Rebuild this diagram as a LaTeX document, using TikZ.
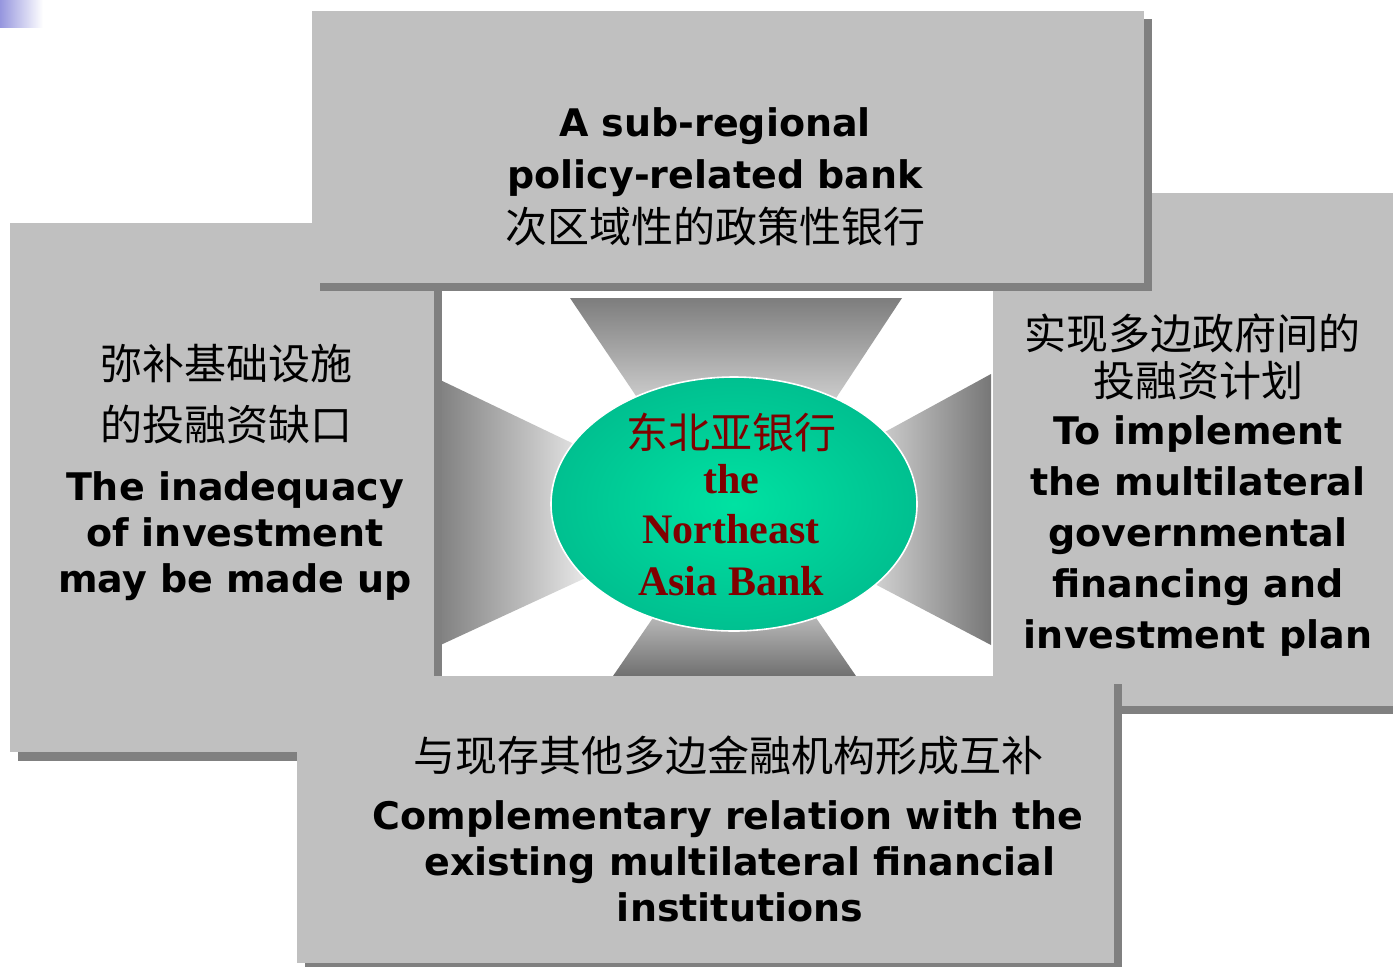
\documentclass[tikz,border=0pt]{standalone}
\usepackage{fontspec}
\newfontfamily\enfont{DejaVu Sans}
\newfontfamily\zhfont{Noto Sans CJK SC}
\newfontfamily\bankfont{Liberation Serif}
\definecolor{boxgray}{RGB}{192,192,192}
\definecolor{shadowgray}{RGB}{128,128,128}
\definecolor{bankred}{RGB}{128,0,0}
\definecolor{tealin}{RGB}{0,226,162}
\definecolor{tealout}{RGB}{0,192,144}
\definecolor{cornerblue}{RGB}{150,150,222}
\definecolor{funneldark}{RGB}{125,125,125}
\definecolor{funnellight}{RGB}{228,228,228}
\newcommand\zhtext[1]{{\zhfont\mdseries\fontsize{21}{25}\selectfont #1}}
\newcommand\padr[1]{\rule{#1}{0pt}}
\tikzset{
  boxfill/.style={fill=boxgray},
  boxshadow/.style={fill=shadowgray},
  boxtext/.style={align=center, text=black, inner sep=0pt},
}
\begin{document}
\begin{tikzpicture}[x=0.5pt,y=-0.5pt]
\useasboundingbox (0,0) rectangle (1393,966);
\clip (0,0) rectangle (1393,966);
% corner gradient
\shade[left color=cornerblue, right color=white] (0,0) rectangle (43,27);
% funnels
\shade[top color=funneldark, bottom color=funnellight] (570,298) -- (902,298) -- (815,430) -- (659,430) -- cycle;
\shade[bottom color=funneldark!110, top color=funnellight] (613,676) -- (856,676) -- (790,580) -- (679,580) -- cycle;
\shade[left color=funneldark, right color=white] (434,377) -- (620,466) -- (620,562) -- (434,648) -- cycle;
\shade[right color=funneldark!95!black, left color=funnellight] (991,374) -- (850,451) -- (850,571) -- (991,645) -- cycle;
% central ellipse
\shade[inner color=tealin, outer color=tealout, draw=white, line width=0.8pt] (734,504) ellipse [x radius=183, y radius=127];
\node[align=center, text=bankred, inner sep=0pt, font=\bankfont\bfseries\fontsize{21}{25}\selectfont] (bank) at (731,504)
  {{\zhfont\mdseries 东北亚银行}\\[-2.5pt]the\\Northeast\\[1pt]Asia Bank};
% left box
\path[boxshadow] (18,231) rectangle (442,761);
\path[boxfill] (10,223) rectangle (434,752);
% right box
\path[boxshadow] (1001,201) rectangle (1401,714);
\path[boxfill] (993,193) rectangle (1393,706);
% bottom box
\path[boxshadow] (305,684) rectangle (1122,971);
\path[boxfill] (297,676) rectangle (1114,963);
% top box
\path[boxshadow] (320,19) rectangle (1152,291);
\path[boxfill] (312,11) rectangle (1144,283);
% texts
\node[boxtext, font=\enfont\bfseries\fontsize{19}{26}\selectfont] (toptext) at (715,177)
  {A sub-regional\\policy-related bank\\[1pt]\zhtext{次区域性的政策性银行}};
\node[boxtext, font=\enfont\bfseries\fontsize{19}{23}\selectfont] (lefttext) at (235,472)
  {\zhtext{弥补基础设施}\padr{9pt}\\[7.5pt]\zhtext{的投融资缺口}\padr{9pt}\\[7pt]The inadequacy\\of investment\\may be made up};
\node[boxtext, font=\enfont\bfseries\fontsize{19}{25.5}\selectfont] (righttext) at (1198,485)
  {\zhtext{实现多边政府间的}\padr{6pt}\\[-2pt]\zhtext{投融资计划}\\[-1.5pt]To implement\\the multilateral\\governmental\\financing and\\investment plan};
\node[boxtext, font=\enfont\bfseries\fontsize{19}{23}\selectfont] (bottomtext) at (740,829)
  {\zhtext{与现存其他多边金融机构形成互补}\padr{12pt}\\[6pt]Complementary relation with the\padr{12pt}\\existing multilateral financial\\institutions};
\end{tikzpicture}
\end{document}
